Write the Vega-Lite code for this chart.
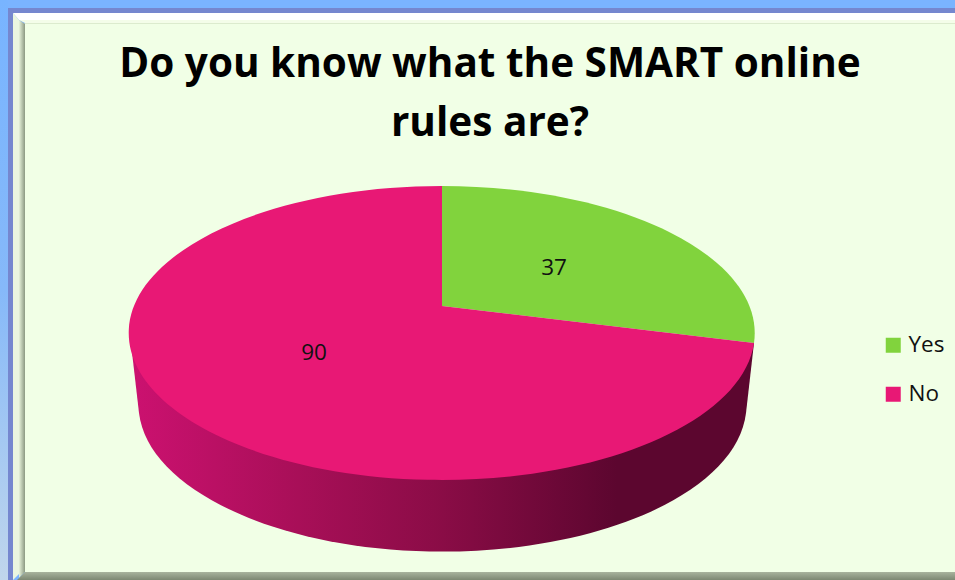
{
"$schema":"https://vega.github.io/schema/vega-lite/v6.json",
"width":930,"height":548,
"autosize":{"type":"none"},
"padding":{"left":25,"top":24,"right":0,"bottom":8},
"background":"#7ab4ff",
"config":{"view":{"stroke":null},"font":"Open Sans"},
"title":{"text":["Do you know what the SMART online","rules are?"],"font":"Open Sans","fontSize":40.5,"fontWeight":"bold","color":"#000000","anchor":"middle","frame":"group","lineHeight":59,"offset":-144,"baseline":"top"},
"data":{"values":[{"answer":"Yes","count":37},{"answer":"No","count":90}]},
"layer":[
{"mark":{"type":"point","filled":true,"opacity":1,"size":4,"stroke":null,"color":"#f1ffe6","shape":"M-465 -274H465V274H-465Z"},"transform":[{"filter":"datum.answer==='No'"}]},
{"mark":{"type":"point","filled":true,"opacity":1,"size":4,"stroke":null,"shape":"M-490 -298H-482V282H-490Z","color":{"gradient":"linear","x1":0,"y1":0,"x2":0,"y2":1,"stops":[{"offset":0,"color":"#78b4ff"},{"offset":0.5,"color":"#86b9f9"},{"offset":1,"color":"#c0d6ec"}]}},"transform":[{"filter":"datum.answer==='No'"}]},
{"mark":{"type":"point","filled":true,"opacity":1,"size":4,"stroke":null,"color":"#7587cf","shape":"M-482 -290H465V-285H-477V282H-482Z"},"transform":[{"filter":"datum.answer==='No'"}]},
{"mark":{"type":"point","filled":true,"opacity":1,"size":4,"stroke":null,"color":"#ffffff","shape":"M-477 -285H465V-278H-471Z"},"transform":[{"filter":"datum.answer==='No'"}]},
{"mark":{"type":"point","filled":true,"opacity":1,"size":4,"stroke":null,"color":"#f4fde9","shape":"M-471 -278H465V-275H-465Z"},"transform":[{"filter":"datum.answer==='No'"}]},
{"mark":{"type":"point","filled":true,"opacity":1,"size":4,"stroke":null,"color":"#dcebce","shape":"M-466 -275H465V-274H-465Z"},"transform":[{"filter":"datum.answer==='No'"}]},
{"mark":{"type":"point","filled":true,"opacity":1,"size":4,"stroke":null,"color":"#eaf6e0","shape":"M-477 -285L-471 -278V276L-477 282Z"},"transform":[{"filter":"datum.answer==='No'"}]},
{"mark":{"type":"point","filled":true,"opacity":1,"size":4,"stroke":null,"shape":"M-471 -278L-465 -274V274L-471 280Z","color":{"gradient":"linear","x1":0,"y1":0,"x2":1,"y2":0,"stops":[{"offset":0,"color":"#e6f2da"},{"offset":1,"color":"#8c9983"}]}},"transform":[{"filter":"datum.answer==='No'"}]},
{"mark":{"type":"point","filled":true,"opacity":1,"size":4,"stroke":null,"shape":"M-465 274H465V282H-473Z","color":{"gradient":"linear","x1":0,"y1":0,"x2":0,"y2":1,"stops":[{"offset":0,"color":"#a8b39d"},{"offset":1,"color":"#7d8873"}]}},"transform":[{"filter":"datum.answer==='No'"}]},
{"mark":{"type":"point","filled":true,"opacity":1,"size":4,"stroke":null,"shape":"M-360 37L-351 115A304 147 0 0 0 256 115L264 45Z","color":{"gradient":"linear","x1":0,"y1":0,"x2":1,"y2":0,"stops":[{"offset":0,"color":"#cc1170"},{"offset":0.27,"color":"#a80f58"},{"offset":0.5,"color":"#8a0c46"},{"offset":0.78,"color":"#5c062f"},{"offset":1,"color":"#5c062f"}]}},"transform":[{"filter":"datum.answer==='No'"}]},
{"mark":{"type":"point","filled":true,"opacity":1,"size":1,"stroke":null,"shape":"square"},
 "encoding":{"color":{"field":"answer","type":"nominal","scale":{"domain":["Yes","No"],"range":["#81d33d","#e81875"]},
   "legend":{"title":null,"orient":"none","legendX":857,"legendY":310,"padding":0,"symbolType":"square","symbolSize":225,"symbolStrokeWidth":0,"labelFont":"Open Sans","labelFontSize":22.5,"labelColor":"#111111","labelOffset":4,"rowPadding":26,"symbolOpacity":1}}}},
{"mark":{"type":"point","filled":true,"opacity":1,"size":4,"stroke":null,"shape":"M-48 8L-48 -112A313 147 0 0 1 264 45Z"},"transform":[{"filter":"datum.answer==='Yes'"}],
 "encoding":{"color":{"field":"answer","type":"nominal","legend":null}}},
{"mark":{"type":"point","filled":true,"opacity":1,"size":4,"stroke":null,"shape":"M-48 8L264 45A313 147 0 1 1 -48 -112Z"},"transform":[{"filter":"datum.answer==='No'"}],
 "encoding":{"color":{"field":"answer","type":"nominal","legend":null}}},
{"mark":{"type":"text","font":"Open Sans","fontSize":22.5,"color":"#111111","align":"center","baseline":"middle","dx":64,"dy":-30},"transform":[{"filter":"datum.answer==='Yes'"}],"encoding":{"text":{"field":"count","type":"quantitative"}}},
{"mark":{"type":"text","font":"Open Sans","fontSize":22.5,"color":"#111111","align":"center","baseline":"middle","dx":-176,"dy":55},"transform":[{"filter":"datum.answer==='No'"}],"encoding":{"text":{"field":"count","type":"quantitative"}}}
]
}
